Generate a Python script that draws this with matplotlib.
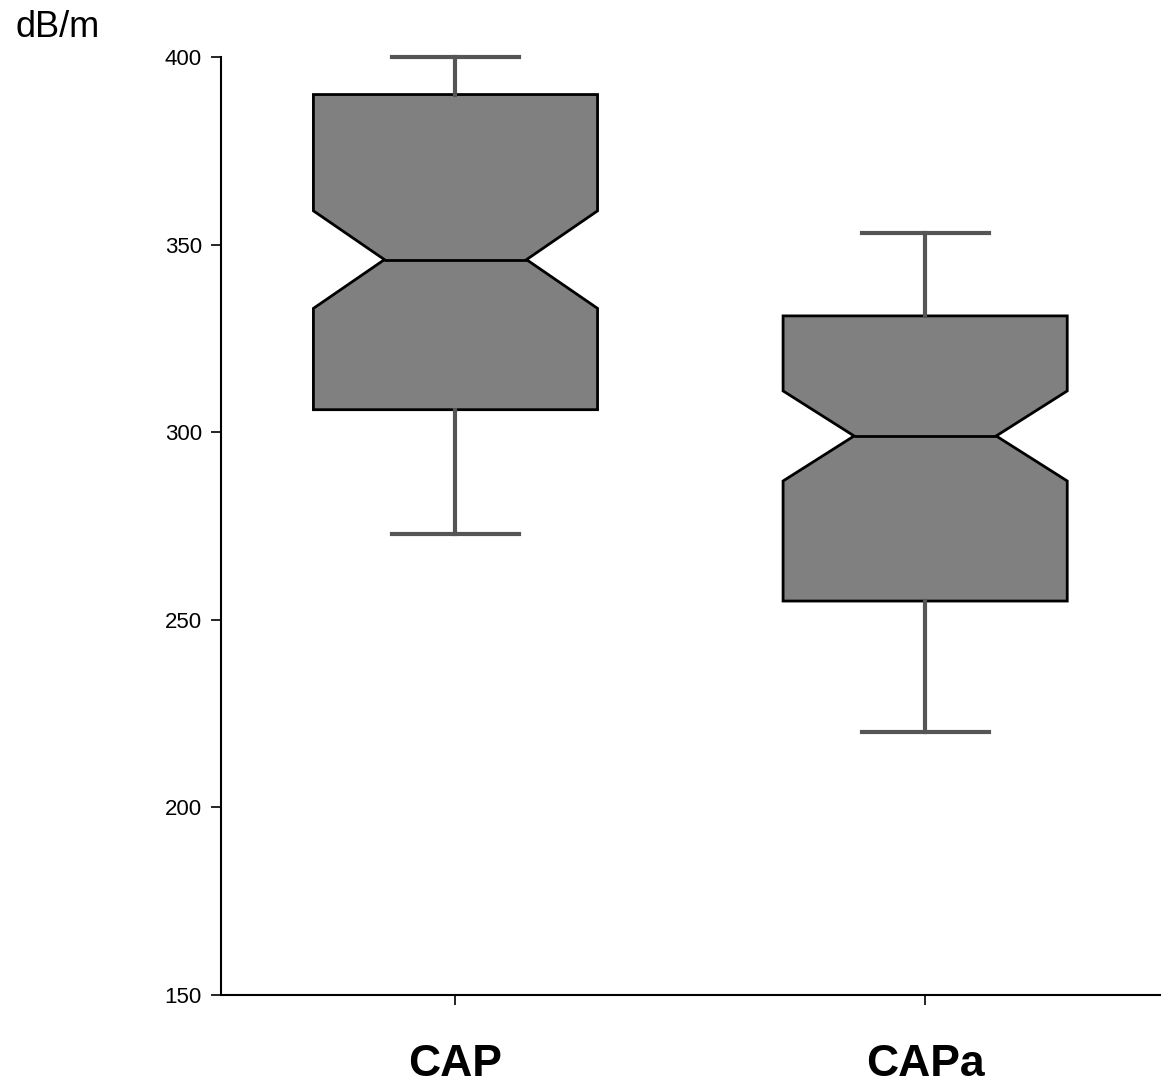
import matplotlib.pyplot as plt

plt.rcParams['font.family'] = ['Liberation Sans', 'DejaVu Sans']

groups = ["CAP", "CAPa"]
whisker_low = [273, 220]
q1 = [306, 255]
notch_low = [333, 287]
median = [346, 299]
notch_high = [359, 311]
q3 = [390, 331]
whisker_high = [400, 353]

yticks = [150, 200, 250, 300, 350, 400]

stats = []
for i, name in enumerate(groups):
    stats.append(dict(label=name, whislo=whisker_low[i], q1=q1[i], med=median[i],
                      q3=q3[i], whishi=whisker_high[i], cilo=notch_low[i],
                      cihi=notch_high[i], fliers=[]))

fig = plt.figure(figsize=(11.65, 10.86), dpi=100)
ax = fig.add_axes([0.1894, 0.0838, 0.8063, 0.8637])

parts = ax.bxp(stats, positions=[1, 2], widths=0.605, capwidths=0.27, shownotches=True,
               patch_artist=True, showfliers=False,
               boxprops=dict(facecolor='#808080', edgecolor='black', linewidth=2),
               medianprops=dict(color='black', linewidth=2),
               whiskerprops=dict(color='#555555', linewidth=3),
               capprops=dict(color='#555555', linewidth=3))
for line in parts['caps'] + parts['whiskers']:
    line.set_clip_on(False)

ax.set_xlim(0.5, 2.5)
ax.set_ylim(150, 400)
ax.set_yticks(yticks)
ax.set_xticks([1, 2])
ax.set_xticklabels(groups, fontsize=32, fontweight='bold')
ax.tick_params(axis='y', labelsize=16, length=7.5, width=1.2, pad=6)
ax.tick_params(axis='x', length=7.5, width=1.2, pad=28)

ax.spines['top'].set_visible(False)
ax.spines['right'].set_visible(False)
ax.spines['left'].set_linewidth(1.5)
ax.spines['bottom'].set_linewidth(1.5)

fig.text(0.013, 0.975, "dB/m", fontsize=26, ha='left', va='center')

fig.savefig("out.png", dpi=100)
